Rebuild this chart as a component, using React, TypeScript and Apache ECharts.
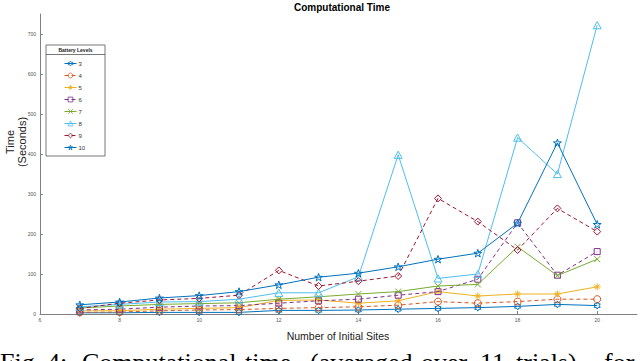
import React, { useEffect, useRef } from "react";
import * as echarts from "echarts";

const sites = [7, 8, 9, 10, 11, 12, 13, 14, 15, 16, 17, 18, 19, 20];
const levels = ["3", "4", "5", "6", "7", "8", "9", "10"];
const s3 = [3, 3, 4, 4, 4, 9, 9, 10, 12, 14, 16, 19, 24, 21];
const s4 = [4, 5, 8, 10, 11, 14, 16, 18, 22, 31, 27, 31, 37, 37];
const s5 = [8, 8, 12, 14, 16, 34, 35, 27, 33, 56, 45, 50, 50, 68];
const s6 = [10, 12, 17, 20, 21, 27, 33, 37, 47, 56, 87, 228, 97, 156];
const s7 = [15, 20, 24, 26, 28, 37, 43, 50, 56, 70, 74, 168, 96, 137];
const s8 = [18, 24, 30, 31, 37, 53, 53, 93, 398, 89, 100, 441, 350, 722];
const s9 = [14, 27, 35, 39, 47, 109, 70, 82, 95, 289, 231, 160, 264, 206];
const s10 = [23, 30, 40, 46, 56, 73, 92, 102, 118, 137, 152, 227, 428, 224];
const seriesValues = [s3, s4, s5, s6, s7, s8, s9, s10];

const captionWords = ["Fig.", "4:", "Computational", "time", "(averaged", "over", "11", "trials)", "for"];

const colors = ["#0072BD", "#D95319", "#EDB120", "#7E2F8E", "#77AC30", "#4DBEEE", "#A2142F", "#0072BD"];
const dashed = [false, true, false, true, false, false, true, false];

const HEX = "path://M10 0 L7.11 5 L1.34 5 L4.23 10 L1.34 15 L7.11 15 L10 20 L12.89 15 L18.66 15 L15.77 10 L18.66 5 L12.89 5 Z";
const STAR = "path://M10 0 L7.755 6.91 L0.49 6.91 L6.367 11.18 L4.12 18.09 L10 13.82 L15.88 18.09 L13.633 11.18 L19.51 6.91 L12.245 6.91 Z";
const ASTER = "path://M10 0 L10 20 M0 10 L20 10 M3 3 L17 17 M3 17 L17 3";
const XMARK = "path://M2 2 L18 18 M2 18 L18 2";
const SQUARE = "path://M0 0 L20 0 L20 20 L0 20 Z";
const DIAMOND = "path://M10 0 L20 10 L10 20 L0 10 Z";
const TRI = "path://M10 0 L20 18 L0 18 Z";
const symbols = [HEX, "circle", ASTER, SQUARE, XMARK, TRI, DIAMOND, STAR];
const sizes = [7, 7, 7, 6, 6, 8, 7, 8];

export default function App() {
  const ref = useRef<HTMLDivElement>(null);
  useEffect(() => {
    if (!ref.current) return;
    const chart = echarts.init(ref.current, null, { renderer: "svg" });
    const font = "Liberation Sans";
    const wordX = [0, 47, 82, 245, 310, 421, 480, 516, 604];
    chart.setOption({
      animation: false,
      backgroundColor: "#ffffff",
      grid: { left: 40, right: 3, top: 14, bottom: 47, containLabel: false },
      xAxis: {
        type: "value",
        min: 6,
        max: 21,
        interval: 2,
        axisLine: { show: true, lineStyle: { color: "#808080", width: 1 } },
        axisTick: { show: true, inside: true, length: 3, lineStyle: { color: "#808080" } },
        axisLabel: { fontSize: 5, color: "#555", margin: 3, fontFamily: font, showMaxLabel: false },
        splitLine: { show: false },
      },
      yAxis: {
        type: "value",
        min: 0,
        max: 750,
        interval: 100,
        axisLine: { show: true, lineStyle: { color: "#808080", width: 1 } },
        axisTick: { show: true, inside: true, length: 3, lineStyle: { color: "#808080" } },
        axisLabel: { fontSize: 5, color: "#555", margin: 4, fontFamily: font, showMaxLabel: false },
        splitLine: { show: false },
      },
      legend: {
        orient: "vertical",
        left: 64,
        top: 60.5,
        padding: 0,
        itemWidth: 12,
        itemHeight: 6,
        itemGap: 6,
        itemStyle: { borderWidth: 0.8 },
        lineStyle: { width: 1 },
        textStyle: { fontSize: 6, color: "#333", fontFamily: font, padding: [0, 0, 0, -3] },
        data: levels,
      },
      graphic: [
        { type: "rect", shape: { x: 46, y: 45, width: 59, height: 111 }, style: { fill: "#fff", stroke: "#555", lineWidth: 0.8 }, z: 1 },
        { type: "line", shape: { x1: 46, y1: 54.5, x2: 105, y2: 54.5 }, style: { stroke: "#555", lineWidth: 0.8 }, z: 2 },
        { type: "text", x: 75.5, y: 50, style: { text: "Battery Levels", font: "bold 5px Liberation Sans", fill: "#222", textAlign: "center", textVerticalAlign: "middle" }, z: 2 },
        { type: "text", x: 342, y: 7, style: { text: "Computational Time", font: "bold 10px Liberation Sans", fill: "#000", textAlign: "center", textVerticalAlign: "middle" } },
        { type: "text", x: 338, y: 336, style: { text: "Number of Initial Sites", font: "10.5px Liberation Sans", fill: "#222", textAlign: "center", textVerticalAlign: "middle" } },
        { type: "text", x: 10, y: 142, rotation: Math.PI / 2, style: { text: "Time", font: "11px Liberation Sans", fill: "#222", textAlign: "center", textVerticalAlign: "middle" } },
        { type: "text", x: 22, y: 142, rotation: Math.PI / 2, style: { text: "(Seconds)", font: "11px Liberation Sans", fill: "#222", textAlign: "center", textVerticalAlign: "middle" } },
        ...captionWords.map((w, i) => ({
          type: "text",
          x: wordX[i],
          y: 349,
          style: { text: w, font: "26px Liberation Serif", fill: "#000", textAlign: "left", textVerticalAlign: "top" },
        })),
      ],
      series: levels.map((name, i) => ({
        name,
        type: "line",
        data: sites.map((x, j) => [x, seriesValues[i][j]]),
        symbol: symbols[i],
        symbolSize: sizes[i],
        symbolKeepAspect: true,
        showAllSymbol: true,
        lineStyle: { color: colors[i], width: 1, type: dashed[i] ? [4, 3] : "solid" },
        itemStyle: { color: "rgba(255,255,255,0)", borderColor: colors[i], borderWidth: 1 },
        emphasis: { disabled: true },
        z: 3 + i,
      })),
    });
    return () => chart.dispose();
  }, []);
  return <div ref={ref} style={{ position: "fixed", left: 0, top: 0, width: 640, height: 361 }} />;
}
